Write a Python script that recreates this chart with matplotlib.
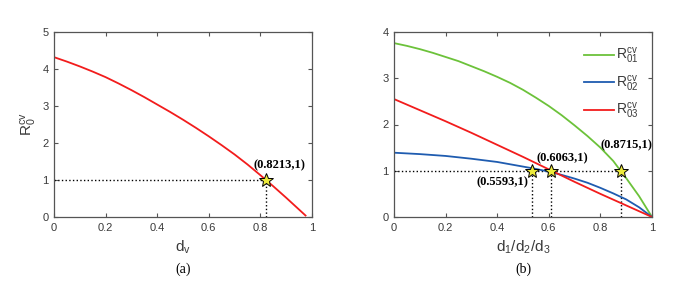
import matplotlib.pyplot as plt

# --- data ---
# panel (a): R0^cv against d_v
dv = [0, 0.05, 0.1, 0.15, 0.2, 0.25, 0.3, 0.35, 0.4, 0.45, 0.5, 0.55,
      0.6, 0.65, 0.7, 0.75, 0.8, 0.8213, 0.85, 0.9, 0.95, 0.975]
r0 = [4.32, 4.20, 4.07, 3.93, 3.78, 3.61, 3.43, 3.24, 3.04, 2.84, 2.63, 2.41,
      2.18, 1.94, 1.69, 1.42, 1.13, 1.0, 0.83, 0.52, 0.20, 0.04]
star_a = (0.8213, 1.0)
label_a = "(0.8213,1)"

# panel (b): R01, R02, R03 against d1/d2/d3
d1 = [0, 0.05, 0.1, 0.15, 0.2, 0.25, 0.3, 0.35, 0.4, 0.45, 0.5, 0.55,
      0.6, 0.65, 0.7, 0.75, 0.8, 0.85, 0.878, 0.9, 0.95, 1.0]
r01 = [3.76, 3.70, 3.63, 3.55, 3.46, 3.37, 3.26, 3.15, 3.03, 2.90, 2.75, 2.58,
       2.40, 2.20, 1.98, 1.75, 1.50, 1.21, 1.0, 0.84, 0.45, 0.0]
d2 = [0, 0.1, 0.2, 0.3, 0.4, 0.5, 0.55, 0.6, 0.65, 0.7, 0.75, 0.8, 0.85,
      0.9, 0.95, 1.0]
r02 = [1.39, 1.36, 1.32, 1.26, 1.19, 1.09, 1.04, 0.98, 0.91, 0.83, 0.74,
       0.63, 0.51, 0.38, 0.21, 0.0]
d3 = [0, 0.1, 0.2, 0.3, 0.4, 0.5, 0.6, 0.7, 0.8, 0.9, 1.0]
r03 = [2.55, 2.31, 2.07, 1.82, 1.56, 1.30, 1.03, 0.76, 0.50, 0.25, 0.0]
star_b_x = [0.533, 0.609, 0.879]
star_b_labels = ["(0.5593,1)", "(0.6063,1)", "(0.8715,1)"]
label_b_pos = [(0.42, 0.76), (0.654, 1.26), (0.90, 1.56)]

GREEN = '#6cc23a'
BLUE = '#1f5cb0'
RED = '#f21c1c'
STAR = '#ecea3c'
TXT = '#3a3a3a'

plt.rcParams['font.family'] = ['Liberation Sans', 'DejaVu Sans']
plt.rcParams['mathtext.fontset'] = 'custom'
plt.rcParams['mathtext.rm'] = 'Liberation Sans'
plt.rcParams['mathtext.it'] = 'Liberation Sans'

fig = plt.figure(figsize=(6.98, 2.91), dpi=100)
ax1 = fig.add_axes([54 / 698, 74 / 291, 258 / 698, 185 / 291])
ax2 = fig.add_axes([394 / 698, 74 / 291, 258 / 698, 185 / 291])


def style(ax, ymax):
    ax.set_xlim(0, 1)
    ax.set_ylim(0, ymax)
    ax.set_xticks([0, 0.2, 0.4, 0.6, 0.8, 1])
    ax.set_xticklabels(['0', '0.2', '0.4', '0.6', '0.8', '1'])
    ax.set_yticks(range(ymax + 1))
    ax.tick_params(direction='in', top=True, right=True, length=3,
                   width=0.8, labelsize=8, colors='#555555',
                   labelcolor=TXT, pad=4)
    for s in ax.spines.values():
        s.set_color('#555555')
        s.set_linewidth(0.9)


# panel (a)
ax1.plot([0, star_a[0]], [1, 1], ':', color='k', lw=1)
ax1.plot([star_a[0], star_a[0]], [0, 1], ':', color='k', lw=1)
ax1.plot(dv, r0, color=RED, lw=1.3)
ax1.plot(*star_a, marker='*', ms=10, mfc=STAR, mec='k', mew=0.7)
ax1.text(0.873, 1.39, label_a, ha='center', va='center', fontsize=9,
         fontweight='bold', family='Liberation Serif')
style(ax1, 5)
ax1.set_xlabel(r'$\mathregular{d_v}$', fontsize=11, color=TXT, labelpad=4)
ax1.set_ylabel(r'$\mathregular{R_0^{cv}}$', fontsize=11, color=TXT, labelpad=2)

# panel (b)
ax2.plot([0, max(star_b_x)], [1, 1], ':', color='k', lw=1)
for xs in star_b_x:
    ax2.plot([xs, xs], [0, 1], ':', color='k', lw=1)
ax2.plot(d1, r01, color=GREEN, lw=1.3, label=r'$\mathregular{R_{01}^{cv}}$')
ax2.plot(d2, r02, color=BLUE, lw=1.3, label=r'$\mathregular{R_{02}^{cv}}$')
ax2.plot(d3, r03, color=RED, lw=1.3, label=r'$\mathregular{R_{03}^{cv}}$')
for xs in star_b_x:
    ax2.plot(xs, 1.0, marker='*', ms=10, mfc=STAR, mec='k', mew=0.7)
for txt, (tx, ty) in zip(star_b_labels, label_b_pos):
    ax2.text(tx, ty, txt, ha='center', va='center', fontsize=9,
             fontweight='bold', family='Liberation Serif')
style(ax2, 4)
ax2.set_xlabel(r'$\mathregular{d_1/d_2/d_3}$', fontsize=11, color=TXT, labelpad=4)
leg = ax2.legend(loc='upper right', frameon=False, fontsize=10,
                 handlelength=2.2, handletextpad=0.1, labelspacing=0.55,
                 borderaxespad=0.6)
for t in leg.get_texts():
    t.set_color(TXT)

fig.text(183 / 698, 1 - 269 / 291, '(a)', ha='center', va='center',
         fontsize=10, family='Liberation Serif')
fig.text(523 / 698, 1 - 269 / 291, '(b)', ha='center', va='center',
         fontsize=10, family='Liberation Serif')

fig.savefig('out.png', dpi=100)
